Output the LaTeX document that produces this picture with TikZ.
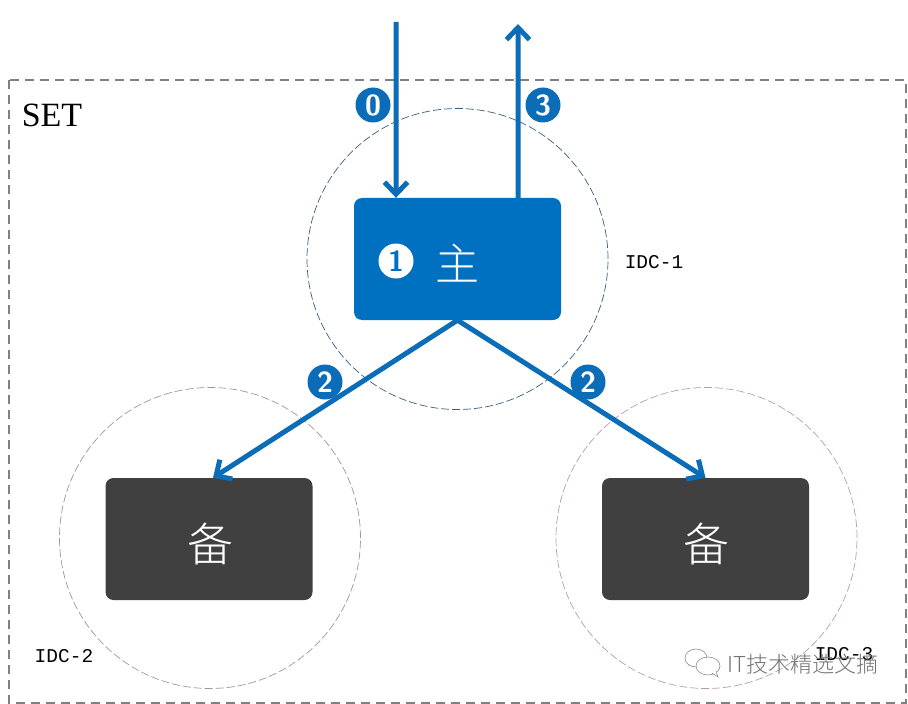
\documentclass[tikz,border=0pt]{standalone}
\usepackage{fontspec}
\setmainfont{Liberation Serif}
\newfontfamily\cjkfont{Noto Sans CJK SC Light}
\newfontfamily\idcfont{Liberation Mono}
\usetikzlibrary{arrows.meta,positioning}
\definecolor{setblue}{HTML}{0B6DB8}
\definecolor{boxblue}{HTML}{0070C0}
\definecolor{boxdark}{HTML}{404040}
\tikzset{
    setframe/.style={draw=black!50, line width=2.6bp, dash pattern=on 9bp off 6bp},
    idcring/.style={draw=#1, circle, line width=0.7bp, dash pattern=on 8bp off 3bp, minimum size=301bp, inner sep=0pt},
    hostbox/.style={fill=#1, rounded corners=8bp, minimum width=207bp, minimum height=122bp, inner sep=0pt},
    hosttext/.style={text=white, inner sep=0pt, font=\cjkfont\fontsize{46bp}{46bp}\selectfont},
    flow/.style={setblue, line width=5bp, -{Straight Barb[length=12bp, width=23bp, line width=5bp]}},
    stepdot/.style={circle, fill=setblue, text=white, minimum size=35bp, inner sep=0pt, font=\sffamily\bfseries\fontsize{29bp}{29bp}\selectfont},
    idclabel/.style={inner sep=0pt, font=\idcfont\fontsize{19.5bp}{19.5bp}\selectfont},
}
\begin{document}
\begin{tikzpicture}[x=1bp, y=-1bp, node distance=100bp]
    \useasboundingbox (0,0) rectangle (908,704);

    \draw[setframe] (9,80) rectangle (906,703);
    \node[inner sep=0pt, font=\fontsize{34bp}{34bp}\selectfont] (settext) at (52,115) {SET};

    \node[idcring=black!50!setblue!80] (idc1) at (457.5,259) {};
    \node[idcring=black!40, below of=idc1, xshift=-247.5bp, yshift=-179bp] (idc2) {};
    \node[idcring=violet!60!black!40, below of=idc1, xshift=249bp, yshift=-179bp] (idc3) {};

    \node[hostbox=boxblue] (master) at (idc1) {};
    \node[hostbox=boxdark] (slave1) at (209,539) {};
    \node[hostbox=boxdark] (slave2) at (705.5,539) {};
    \node[hosttext, font=\cjkfont\fontsize{44bp}{44bp}\selectfont] (mastertext) at (457,263) {主};
    \node[hosttext] (slave1text) at (210,544) {备};
    \node[hosttext] (slave2text) at (706,544) {备};

    \node[idclabel] (idc1text) at (654,262) {IDC-1};
    \node[idclabel] (idc2text) at (64,656) {IDC-2};
    \node[idclabel] (idc3text) at (844,654) {IDC-3};

    \coordinate (infrom) at (396,22);
    \coordinate (outto) at (518,24);

    \draw[flow] (infrom) -- ([xshift=-61.5bp]master.north);
    \draw[flow] ([xshift=60.5bp]master.north) -- (outto);
    \draw[flow] (master.south) -- ([xshift=4bp]slave1.north);
    \draw[flow] (master.south) -- (slave2.north);

    \node[stepdot] (step0) at (373,105) {0};
    \node[stepdot] (step3) at (543,105) {3};
    \node[stepdot] (step2a) at (325,382) {2};
    \node[stepdot] (step2b) at (588,382) {2};
    \node[stepdot, fill=white, text=boxblue] (step1) at (396,261) {1};

    % watermark
    \draw[black!45, line width=0.6bp, fill=white] (695,659) -- (689,665) -- (696,663) -- cycle;
    \draw[black!45, line width=0.6bp, fill=white] (696,658) ellipse (11bp and 9bp);
    \draw[black!45, line width=0.6bp, fill=white] (708,666) ellipse (12bp and 9bp);
    \draw[black!45, line width=0.6bp, fill=white] (712,673) -- (718,677) -- (716,671);
    \node[black!55, inner sep=0pt, font=\cjkfont\fontsize{22bp}{22bp}\selectfont] (mark) at (803,664) {IT技术精选文摘};
\end{tikzpicture}
\end{document}
